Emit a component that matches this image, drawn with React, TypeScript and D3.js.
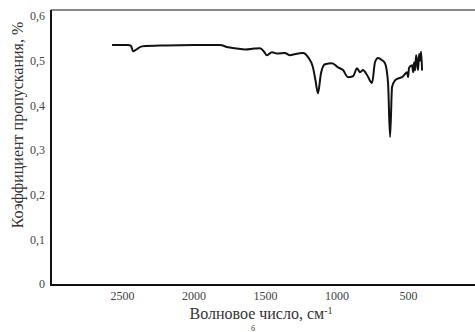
import React from 'react'
import * as d3 from 'd3'

// wavenumber, cm-1
const wavenumbers = [
  2573, 2462, 2440, 2427, 2399, 2364, 2200, 2000, 1818, 1762, 1713, 1640, 1580, 1538,
  1510, 1490, 1455, 1420, 1364, 1329, 1290, 1238, 1203, 1168, 1150, 1133, 1112, 1084,
  1035, 993, 958, 923, 888, 860, 839, 818, 790, 755, 734, 713, 685, 664, 643, 629,
  615, 594, 574, 545, 530, 510, 503, 496, 475, 468, 461, 454, 447, 440, 433, 426, 419, 412, 405,
]
// transmittance
const transmittance = [
  0.535, 0.535, 0.533, 0.521, 0.526, 0.532, 0.534, 0.535, 0.535, 0.53, 0.528, 0.525, 0.527, 0.528,
  0.52, 0.512, 0.519, 0.516, 0.517, 0.512, 0.515, 0.517, 0.508, 0.485, 0.455, 0.427, 0.472, 0.492,
  0.494, 0.485, 0.479, 0.463, 0.465, 0.483, 0.474, 0.479, 0.468, 0.45, 0.497, 0.506, 0.501, 0.494, 0.45, 0.329,
  0.441, 0.456, 0.46, 0.463, 0.468, 0.474, 0.463, 0.484, 0.49, 0.474, 0.496, 0.478, 0.512, 0.498, 0.479, 0.515, 0.5, 0.52, 0.478,
]
const xTicks = [2500, 2000, 1500, 1000, 500]
const yTicks = [0, 0.1, 0.2, 0.3, 0.4, 0.5, 0.6]

const fmt = (v: number) => (v === 0 ? '0' : v.toFixed(1).replace('.', ','))

export default function App() {
  const width = 475
  const height = 332
  const left = 51
  const top = 10
  const bottom = 285

  // 0 cm-1 lies just past the right edge of the picture
  const x = d3.scaleLinear().domain([3000, 0]).range([left, 480])
  const y = d3.scaleLinear().domain([0, 0.6]).range([284, 16])

  const points: [number, number][] = wavenumbers.map((w, i) => [w, transmittance[i]])
  const line = d3
    .line<[number, number]>()
    .x((d) => x(d[0]))
    .y((d) => y(d[1]))
    .curve(d3.curveMonotoneX)

  return (
    <svg
      width={width}
      height={height}
      style={{ position: 'absolute', left: 0, top: 0, background: '#fff' }}
      fontFamily="'Liberation Serif', 'Times New Roman', serif"
    >
      {/* frame */}
      <line x1={left} x2={width} y1={top} y2={top} stroke="#888" strokeWidth={2} />
      <line x1={left} x2={left} y1={top} y2={bottom} stroke="#111" strokeWidth={2} />
      <line x1={left - 1} x2={width} y1={bottom} y2={bottom} stroke="#111" strokeWidth={2} />

      {yTicks.map((t) => (
        <text key={t} x={left - 6} y={y(t)} dy="0.35em" textAnchor="end" fontSize={12} fill="#444">
          {fmt(t)}
        </text>
      ))}
      {xTicks.map((t) => (
        <text key={t} x={x(t)} y={bottom + 15} textAnchor="middle" fontSize={12} fill="#444">
          {t}
        </text>
      ))}

      <path d={line(points) ?? ''} fill="none" stroke="#111" strokeWidth={2} strokeLinejoin="round" />

      <text
        transform="translate(23,125) rotate(-90)"
        textAnchor="middle"
        fontSize={16}
        fill="#333"
      >
        Коэффициент пропускания, %
      </text>
      <text x={261} y={319} textAnchor="middle" fontSize={16} fill="#333">
        Волновое число, см<tspan dy={-5} fontSize={10}>-1</tspan>
      </text>
      <text x={253} y={331} textAnchor="middle" fontSize={8} fill="#333">
        б
      </text>
    </svg>
  )
}
